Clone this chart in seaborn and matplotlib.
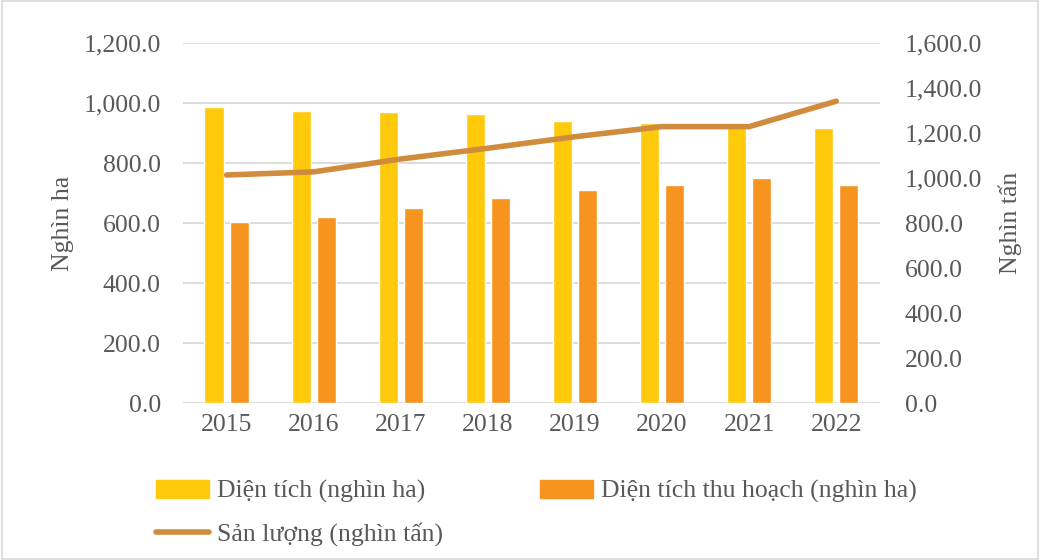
import numpy as np
import pandas as pd
import matplotlib.pyplot as plt
import matplotlib.patches as mpatches
from matplotlib.lines import Line2D
from matplotlib.ticker import FuncFormatter
import seaborn as sns

# data
years = ['2015', '2016', '2017', '2018', '2019', '2020', '2021', '2022']
area = [987, 974, 971, 963, 941, 933, 925, 917]            # nghìn ha
harvest_area = [603, 620, 652, 685, 710, 727, 750, 727]    # nghìn ha
production = [1014, 1028, 1085, 1133, 1184, 1229, 1229, 1342]  # nghìn tấn

lbl_area = 'Diện tích (nghìn ha)'
lbl_harvest = 'Diện tích thu hoạch (nghìn ha)'
lbl_prod = 'Sản lượng (nghìn tấn)'

c_area = '#FFC90C'
c_harvest = '#F7941F'
c_prod = '#D08C3C'
txt = '#595959'
grid_c = '#D9D9D9'
fs = 18.5

sns.set_theme(style="white")
plt.rcParams['font.family'] = ['Liberation Serif', 'DejaVu Serif']
plt.rcParams['text.color'] = txt
plt.rcParams['axes.labelcolor'] = txt
plt.rcParams['xtick.color'] = txt
plt.rcParams['ytick.color'] = txt

df = pd.DataFrame({
    'year': years * 2,
    'value': area + harvest_area,
    'series': [lbl_area] * len(years) + [lbl_harvest] * len(years),
})

fig = plt.figure(figsize=(10.4, 5.6), dpi=100)
ax = fig.add_axes([0.176, 0.280, 0.670, 0.643])

sns.barplot(data=df, x='year', y='value', hue='series', ax=ax,
            palette=[c_area, c_harvest], width=0.575, gap=0.235,
            saturation=1, legend=False)

ax2 = ax.twinx()
sns.lineplot(x=np.arange(len(years)), y=production, ax=ax2,
             color=c_prod, linewidth=4, solid_capstyle='round')

ax.set_ylim(0, 1200)
ax.set_yticks(np.arange(0, 1201, 200))
ax2.set_ylim(0, 1600)
ax2.set_yticks(np.arange(0, 1601, 200))
ax.set_xlim(-0.5, len(years) - 0.5)

fmt = FuncFormatter(lambda v, p: f'{v:,.1f}')
ax.yaxis.set_major_formatter(fmt)
ax2.yaxis.set_major_formatter(fmt)

ax.yaxis.grid(True, color=grid_c, linewidth=1.3)
ax.set_axisbelow(True)
for a in (ax, ax2):
    for s in a.spines.values():
        s.set_visible(False)
    a.tick_params(length=0, labelsize=fs)
ax.tick_params(axis='y', pad=16)
ax2.tick_params(axis='y', pad=18)
ax.tick_params(axis='x', pad=8)

ax.set_xlabel('')
ax.set_ylabel('Nghìn ha', fontsize=fs, labelpad=7)
ax2.set_ylabel('Nghìn tấn', fontsize=fs, labelpad=12)

handles = [
    mpatches.Patch(color=c_area, label=lbl_area),
    Line2D([0], [0], color=c_prod, linewidth=4, solid_capstyle='round', label=lbl_prod),
    mpatches.Patch(color=c_harvest, label=lbl_harvest),
]
fig.legend(handles=handles, ncol=2, loc='upper left', bbox_to_anchor=(0.128, 0.185),
           frameon=False, fontsize=fs, handlelength=2.05, handletextpad=0.3,
           columnspacing=3.8, labelspacing=0.75)

fig.patches.append(mpatches.Rectangle((0.002, 0.002), 0.996, 0.996, transform=fig.transFigure,
                                      fill=False, edgecolor=grid_c, linewidth=1.2))

fig.savefig('out.png', dpi=100)
